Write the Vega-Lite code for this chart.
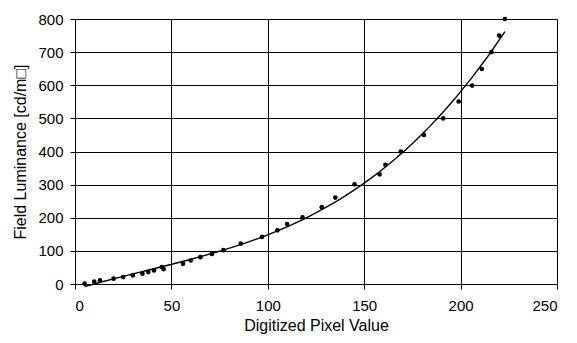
{
  "$schema": "https://vega.github.io/schema/vega-lite/v6.json",
  "width": 482,
  "height": 265,
  "autosize": "none",
  "padding": {"left": 75, "top": 19, "right": 20, "bottom": 59},
  "background": "white",
  "config": {
    "view": {"stroke": null},
    "font": "Liberation Sans",
    "axis": {
      "labelFont": "Liberation Sans",
      "titleFont": "Liberation Sans",
      "labelFontSize": 15,
      "titleFontSize": 16,
      "titleFontWeight": "normal",
      "labelColor": "black",
      "titleColor": "black",
      "domainColor": "black",
      "tickColor": "black",
      "gridColor": "black",
      "gridOpacity": 1,
      "tickSize": 5,
      "grid": true
    }
  },
  "data": {
    "values": [
      {"pixel": 5, "luminance": 1},
      {"pixel": 10, "luminance": 7},
      {"pixel": 13, "luminance": 11},
      {"pixel": 20, "luminance": 16},
      {"pixel": 25, "luminance": 21},
      {"pixel": 30, "luminance": 26},
      {"pixel": 35, "luminance": 31},
      {"pixel": 38, "luminance": 36},
      {"pixel": 41, "luminance": 41},
      {"pixel": 45, "luminance": 51},
      {"pixel": 46, "luminance": 45},
      {"pixel": 56, "luminance": 61},
      {"pixel": 60, "luminance": 71},
      {"pixel": 65, "luminance": 81},
      {"pixel": 71, "luminance": 91},
      {"pixel": 77, "luminance": 102},
      {"pixel": 86, "luminance": 122},
      {"pixel": 97, "luminance": 142},
      {"pixel": 105, "luminance": 162},
      {"pixel": 110, "luminance": 181},
      {"pixel": 118, "luminance": 201},
      {"pixel": 128, "luminance": 232},
      {"pixel": 135, "luminance": 261},
      {"pixel": 145, "luminance": 301},
      {"pixel": 158, "luminance": 331},
      {"pixel": 161, "luminance": 360},
      {"pixel": 169, "luminance": 400},
      {"pixel": 181, "luminance": 450},
      {"pixel": 191, "luminance": 500},
      {"pixel": 199, "luminance": 551},
      {"pixel": 206, "luminance": 599},
      {"pixel": 211, "luminance": 649},
      {"pixel": 216, "luminance": 700},
      {"pixel": 220, "luminance": 750},
      {"pixel": 223, "luminance": 800}
    ]
  },
  "encoding": {
    "x": {
      "field": "pixel",
      "type": "quantitative",
      "scale": {"domain": [0, 250], "nice": false},
      "axis": {"values": [0, 50, 100, 150, 200, 250], "title": "Digitized Pixel Value", "labelPadding": 9, "titlePadding": 4}
    },
    "y": {
      "field": "luminance",
      "type": "quantitative",
      "scale": {"domain": [0, 800], "nice": false},
      "axis": {"values": [0, 100, 200, 300, 400, 500, 600, 700, 800], "title": "Field Luminance [cd/m□]", "labelPadding": 7, "titlePadding": 9}
    }
  },
  "layer": [
    {
      "mark": {"type": "circle", "color": "black", "size": 22, "opacity": 1}
    },
    {
      "transform": [
        {"regression": "luminance", "on": "pixel", "method": "poly", "order": 3}
      ],
      "mark": {"type": "line", "color": "black", "strokeWidth": 1.4}
    }
  ]
}
